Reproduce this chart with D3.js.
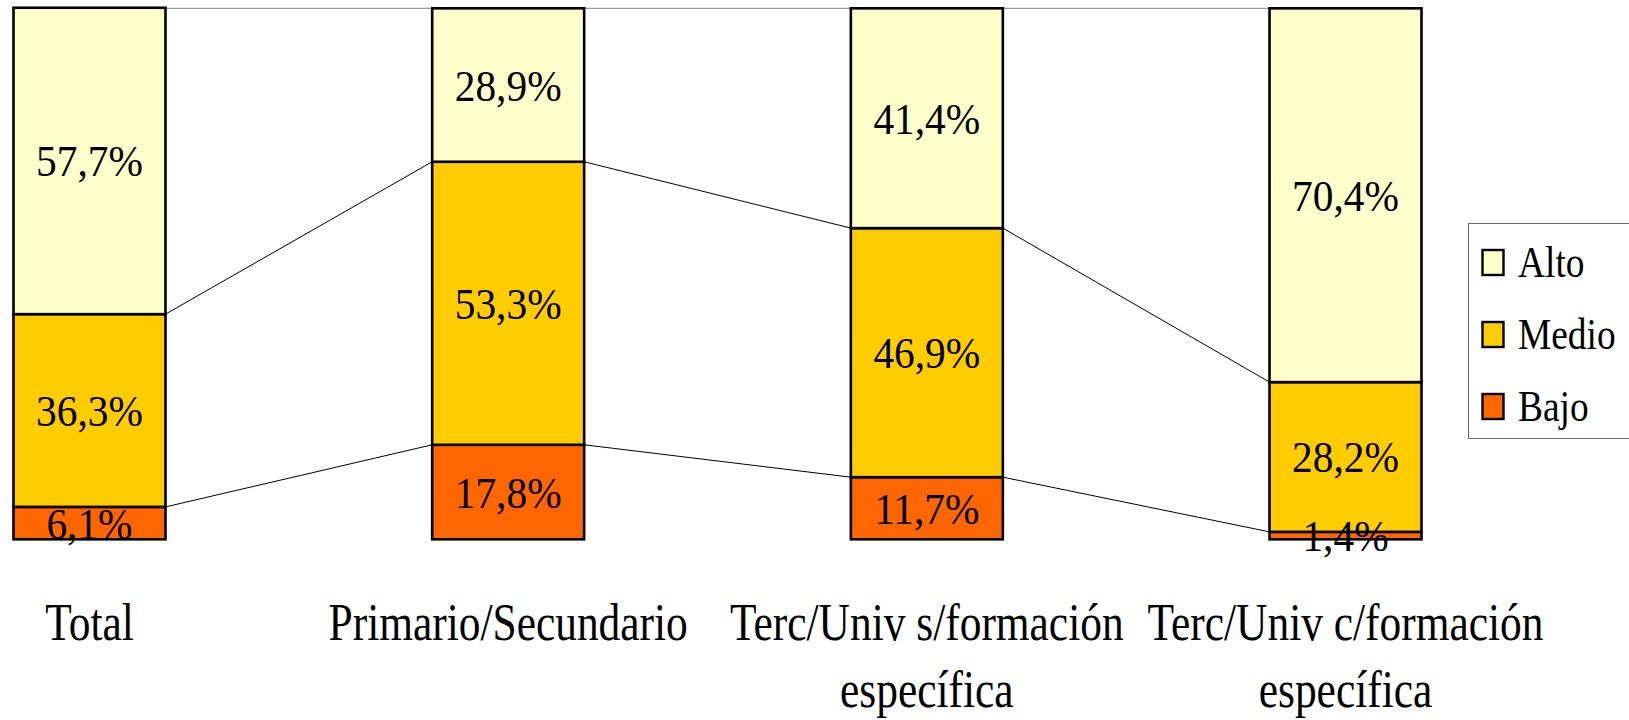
<!DOCTYPE html>
<html>
<head>
<meta charset="utf-8">
<script src="https://cdn.jsdelivr.net/npm/d3@7"></script>
<style>
  html, body { margin: 0; padding: 0; background: #ffffff; }
  svg { display: block; }
  text { font-family: "Liberation Serif", "Times New Roman", serif; fill: #000; }
</style>
</head>
<body>
<svg id="chart" width="1629" height="720"></svg>
<script>
// ---- data ----
const categories = ["Total", "Primario/Secundario", "Terc/Univ s/formación específica", "Terc/Univ c/formación específica"];
const seriesNames = ["Bajo", "Medio", "Alto"];
const bajo  = [6.1, 17.8, 11.7, 1.4];
const medio = [36.3, 53.3, 46.9, 28.2];
const alto  = [57.7, 28.9, 41.4, 70.4];
const colors = ["#FF6600", "#FFCC00", "#FFFFCC"];
const legendOrder = ["Alto", "Medio", "Bajo"];

(function () {
// ---- build table ----
const table = categories.map((c, i) => ({ cat: c, Bajo: bajo[i], Medio: medio[i], Alto: alto[i] }));
const stacked = d3.stack().keys(seriesNames)(table);

const svg = d3.select("#chart");
const plotTop = 8.3, plotBottom = 539.3;
const x = d3.scaleBand().domain(categories).range([13.5, 1421.5]).paddingInner(0.637).paddingOuter(0);
const y = d3.scaleLinear().domain([0, 100]).range([plotBottom, plotTop]);
const color = d3.scaleOrdinal().domain(seriesNames).range(colors);
const locale = d3.formatLocale({ decimal: ",", thousands: ".", grouping: [3], currency: ["", "€"] });
const fmt = v => locale.format(".1f")(v) + "%";

// ---- connector lines ----
const conn = svg.append("g");
stacked.forEach((s, si) => {
  for (let i = 0; i < categories.length - 1; i++) {
    const isTop = si === stacked.length - 1;
    const y1 = isTop ? y(100) : y(s[i][1]);
    const y2 = isTop ? y(100) : y(s[i + 1][1]);
    conn.append("line")
      .attr("x1", x(categories[i]) + x.bandwidth())
      .attr("y1", y1)
      .attr("x2", x(categories[i + 1]))
      .attr("y2", y2)
      .attr("stroke", isTop ? "#808080" : "#000")
      .attr("stroke-width", 1);
  }
});

// ---- bars ----
const bars = svg.append("g");
stacked.forEach(s => {
  bars.selectAll(null).data(s).enter().append("rect")
    .attr("x", d => x(d.data.cat))
    .attr("width", x.bandwidth())
    .attr("y", d => y(d[1]))
    .attr("height", d => y(d[0]) - y(d[1]))
    .attr("fill", color(s.key))
    .attr("stroke", "#000")
    .attr("stroke-width", 2.6);
});

// ---- value labels ----
const labels = svg.append("g");
stacked.forEach(s => {
  s.forEach(d => {
    const cx = x(d.data.cat) + x.bandwidth() / 2;
    const cy = (y(d[0]) + y(d[1])) / 2;
    labels.append("g")
      .attr("transform", `translate(${cx},${cy + 15.5}) scale(0.92,1)`)
      .append("text")
      .attr("text-anchor", "middle")
      .attr("font-size", 45)
      .text(fmt(d.data[s.key]));
  });
});

// ---- category labels (wrapped) ----
const catG = svg.append("g");
const sx = 0.835, catSize = 52, lineH = 67, baseY = 640;
categories.forEach(c => {
  const cx = x(c) + x.bandwidth() / 2;
  const maxW = x.step() * 0.98;
  const words = c.split(" ");
  const lines = [];
  let line = [];
  const probe = svg.append("text").attr("font-size", catSize);
  words.forEach(w => {
    const trial = line.concat([w]).join(" ");
    probe.text(trial);
    if (probe.node().getComputedTextLength() * sx > maxW && line.length) {
      lines.push(line.join(" "));
      line = [w];
    } else {
      line.push(w);
    }
  });
  lines.push(line.join(" "));
  probe.remove();
  lines.forEach((ln, li) => {
    catG.append("g")
      .attr("transform", `translate(${cx},${baseY + li * lineH}) scale(${sx},1)`)
      .append("text")
      .attr("text-anchor", "middle")
      .attr("font-size", catSize)
      .text(ln);
  });
});

// ---- legend ----
const lg = svg.append("g");
lg.append("rect")
  .attr("x", 1468.5).attr("y", 223.5)
  .attr("width", 175).attr("height", 215)
  .attr("fill", "#fff").attr("stroke", "#666").attr("stroke-width", 1);
legendOrder.forEach((name, i) => {
  const by = 277 + i * 72;
  lg.append("rect")
    .attr("x", 1482.5).attr("y", by - 27)
    .attr("width", 21).attr("height", 25)
    .attr("fill", color(name))
    .attr("stroke", "#000").attr("stroke-width", 2.4);
  lg.append("g")
    .attr("transform", `translate(1518,${by}) scale(0.85,1)`)
    .append("text")
    .attr("font-size", 44)
    .text(name);
});
})();
</script>
</body>
</html>
